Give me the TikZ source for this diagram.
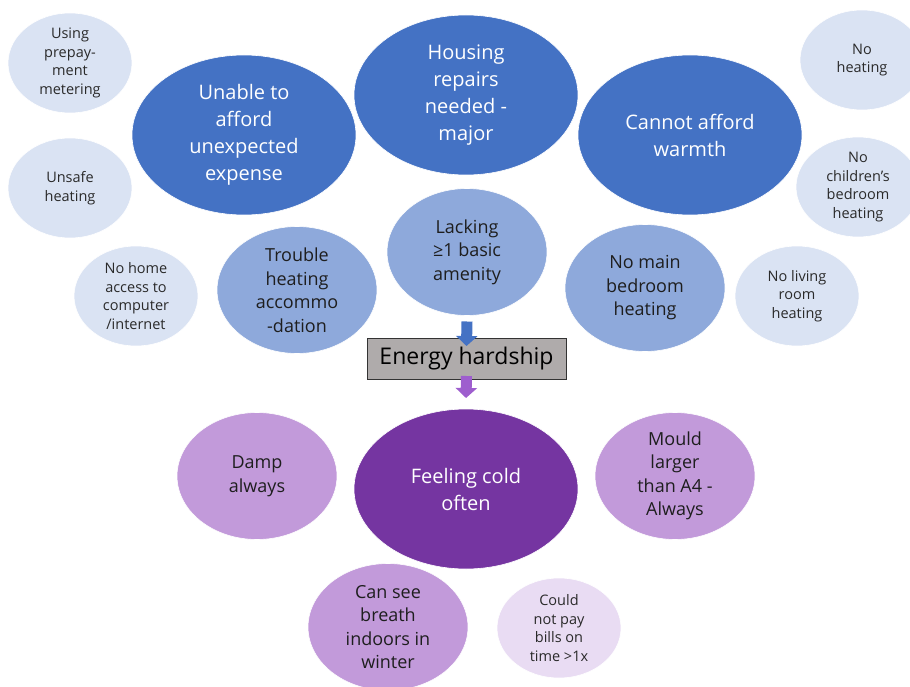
\documentclass[tikz,border=0pt]{standalone}
\usepackage{fontspec}
\setmainfont{Open Sans}
\usetikzlibrary{shapes.geometric,arrows.meta,calc}

\definecolor{darkblue}{HTML}{4472C4}
\definecolor{midblue}{HTML}{8EA9DB}
\definecolor{lightblue}{HTML}{DAE3F3}
\definecolor{darkpurple}{HTML}{7535A1}
\definecolor{midpurple}{HTML}{C29ADA}
\definecolor{lightpurple}{HTML}{E9DCF3}
\definecolor{boxgray}{HTML}{AFABAB}
\definecolor{arrowpurple}{HTML}{9E5ECE}
\definecolor{txtdark}{HTML}{1E1E1E}
\definecolor{txtgray}{HTML}{2A2A2A}

\begin{document}
\begin{tikzpicture}[x=1pt,y=-1pt,
  blob/.style={ellipse, inner sep=0pt, outer sep=0pt, align=center,
    draw=white, line width=0.6pt},
  bigblob/.style={blob, minimum width=224pt, minimum height=160pt,
    text=white, font=\fontsize{20}{27}\selectfont},
  midblob/.style={blob, minimum width=160pt, minimum height=127pt,
    text=txtdark, font=\fontsize{18}{23.5}\selectfont},
  smallblob/.style={blob, minimum width=124pt, minimum height=100pt,
    text=txtgray, font=\fontsize{14.5}{18.5}\selectfont},
  hardbox/.style={rectangle, draw=black!80, line width=0.8pt, fill=boxgray,
    minimum width=199pt, minimum height=41pt, inner sep=0pt, outer sep=0pt,
    font=\fontsize{23}{27}\selectfont},
  blockarrow/.style={line width=11pt, -{Triangle[width=21pt,length=10pt]}}
]
\useasboundingbox (0,0) rectangle (910,687);
\clip (0,0) rectangle (910,687);

% drivers of energy hardship
\node[smallblob, fill=lightblue] (prepay) at (70,63) {Using\\prepay-\\ment\\metering};
\node[smallblob, fill=lightblue] (unsafe) at (70,188) {Unsafe\\heating};
\node[bigblob, fill=darkblue] (unable) at (244,135) {Unable to\\afford\\unexpected\\expense};
\node[bigblob, fill=darkblue] (repairs) at (466,95) {Housing\\repairs\\needed -\\major};
\node[bigblob, fill=darkblue] (warmth) at (690,135) {Cannot afford\\warmth};
\node[smallblob, fill=lightblue] (noheat) at (862,60) {No\\heating};
\node[smallblob, fill=lightblue] (child) at (858,187) {No\\children’s\\bedroom\\heating};
\node[smallblob, fill=lightblue] (living) at (797,296) {No living\\room\\heating};
\node[midblob, fill=midblue] (mainbed) at (645,288) {No main\\bedroom\\heating};
\node[midblob, fill=midblue] (lacking) at (467,252) {Lacking\\≥1 basic\\amenity};
\node[midblob, fill=midblue] (trouble) at (297,290) {Trouble\\heating\\accommo\\-dation};
\node[smallblob, fill=lightblue] (nohome) at (136,296) {No home\\access to\\computer\\/internet};

% central label
\node[hardbox] (hard) at (466.5,358.5) {Energy hardship};

% outcomes
\node[midblob, fill=midpurple] (damp) at (257,476) {Damp\\always};
\node[bigblob, fill=darkpurple] (cold) at (466,489) {Feeling cold\\often};
\node[midblob, fill=midpurple] (mould) at (675,476) {Mould\\larger\\than A4 -\\Always};
\node[midblob, fill=midpurple] (breath) at (388,627) {Can see\\breath\\indoors in\\winter};
\node[smallblob, fill=lightpurple] (bills) at (559,628) {Could\\not pay\\bills on\\time >1x};

% block arrows
\draw[blockarrow, darkblue] ($(lacking.south)+(0,6)$) -- ($(hard.north)+(0,8)$);
\draw[blockarrow, arrowpurple] ($(hard.south)+(0,-3)$) -- ($(cold.north)+(0,-11)$);
\end{tikzpicture}
\end{document}
